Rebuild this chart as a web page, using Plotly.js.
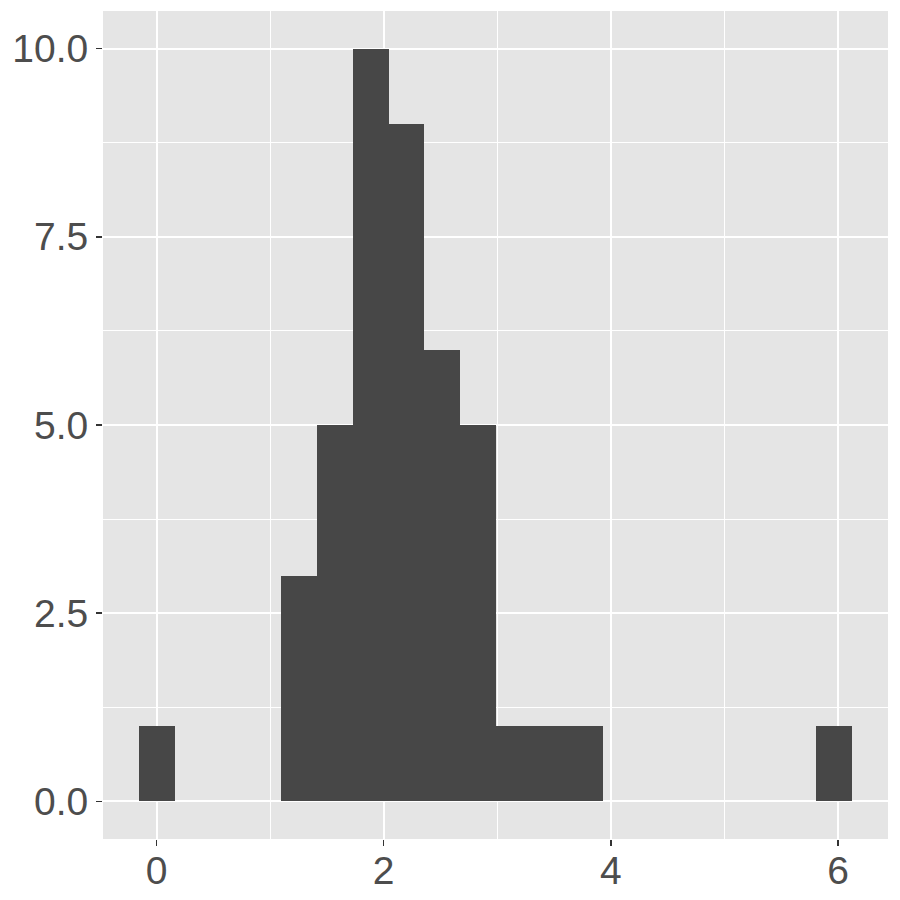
<!DOCTYPE html>
<html>
<head>
<meta charset="utf-8">
<script src="https://cdn.plot.ly/plotly-3.0.1.min.js"></script>
<style>html,body{margin:0;padding:0;background:#fff;}#chart{width:900px;height:900px;}</style>
</head>
<body>
<div id="chart"></div>
<script>
// Histogram bins (bin width = 2*pi/20), centers and counts
const binWidth = 0.31416;
const binCenters = [0, 1.2566, 1.5708, 1.8850, 2.1991, 2.5133, 2.8274, 3.1416, 3.4558, 3.7699, 5.9690];
const counts = [1, 3, 5, 10, 9, 6, 5, 1, 1, 1, 1];
const xTicks = [0, 2, 4, 6];
const yTicks = [0, 2.5, 5, 7.5, 10];

const trace = {
  type: 'bar',
  x: binCenters,
  y: counts,
  width: binWidth * 1.008,
  marker: {color: '#474747', line: {width: 0}},
  hoverinfo: 'skip'
};

const tickFont = {family: 'Liberation Sans, Arial, sans-serif', size: 39, color: '#4D4D4D'};

const layout = {
  width: 900, height: 900,
  margin: {l: 103, r: 12, t: 11, b: 61},
  paper_bgcolor: '#FFFFFF',
  plot_bgcolor: '#E5E5E5',
  showlegend: false,
  bargap: 0,
  xaxis: {
    range: [-0.4712, 6.4403],
    tickmode: 'array', tickvals: xTicks, ticktext: xTicks.map(String),
    showgrid: true, gridcolor: '#FFFFFF', gridwidth: 2,
    minor: {tickmode: 'array', tickvals: [1, 3, 5], showgrid: true, gridcolor: '#FFFFFF', gridwidth: 1, ticks: ''},
    zeroline: false, showline: false,
    ticks: 'outside', ticklen: 6, tickwidth: 1.5, tickcolor: '#333333',
    ticklabelstandoff: -9,
    tickfont: tickFont
  },
  yaxis: {
    range: [-0.5, 10.5],
    tickmode: 'array', tickvals: yTicks, ticktext: yTicks.map(v => v.toFixed(1)),
    showgrid: true, gridcolor: '#FFFFFF', gridwidth: 2,
    minor: {tickmode: 'array', tickvals: [1.25, 3.75, 6.25, 8.75], showgrid: true, gridcolor: '#FFFFFF', gridwidth: 1, ticks: ''},
    zeroline: false, showline: false,
    ticks: 'outside', ticklen: 6, tickwidth: 1.5, tickcolor: '#333333',
    tickfont: tickFont
  }
};

Plotly.newPlot('chart', [trace], layout, {staticPlot: true, displayModeBar: false});
</script>
</body>
</html>
